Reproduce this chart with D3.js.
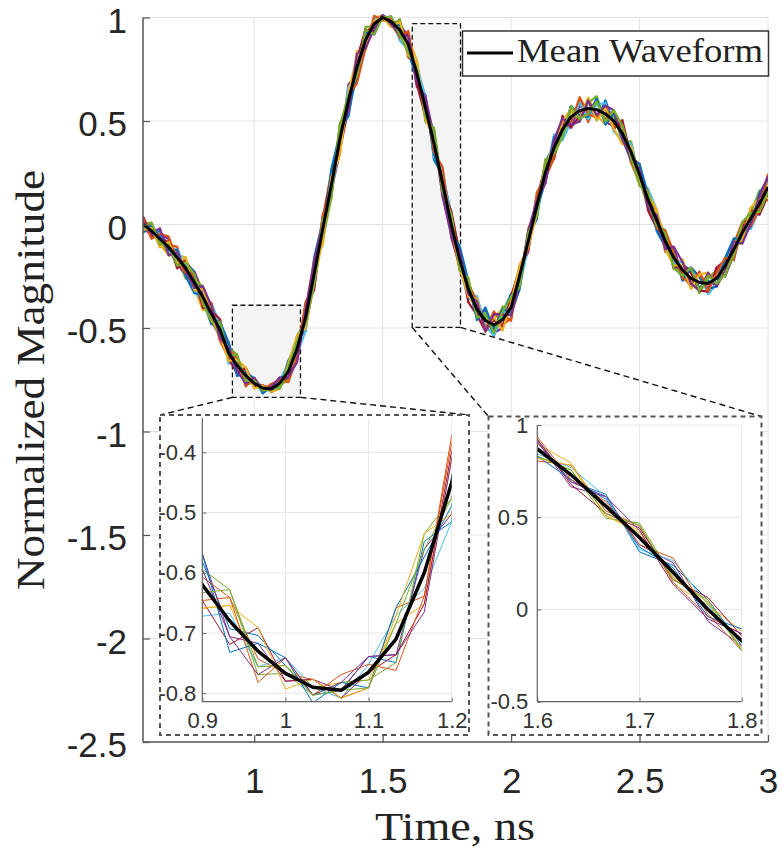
<!DOCTYPE html>
<html><head><meta charset="utf-8">
<script src="https://cdn.jsdelivr.net/npm/d3@7/dist/d3.min.js"></script>
<style>body{margin:0;background:#fff}svg{display:block}</style>
</head><body>
<svg id="c" width="782" height="848"></svg>
<script>
// ---------------- data ----------------
const time = [0.567,0.6,0.633,0.667,0.7,0.733,0.767,0.8,0.833,0.867,
0.9,0.933,0.967,1.0,1.033,1.067,1.1,1.133,1.167,1.2,
1.233,1.267,1.3,1.333,1.367,1.4,1.433,1.467,1.5,1.533,
1.567,1.6,1.633,1.667,1.7,1.733,1.767,1.8,1.833,1.867,
1.9,1.933,1.967,2.0,2.033,2.067,2.1,2.133,2.167,2.2,
2.233,2.267,2.3,2.333,2.367,2.4,2.433,2.467,2.5,2.533,
2.567,2.6,2.633,2.667,2.7,2.733,2.767,2.8,2.833,2.867,
2.9,2.933,2.967,3.0];

const meanWave = [0.00,-0.03,-0.07,-0.11,-0.16,-0.21,-0.28,-0.35,-0.43,-0.51,
-0.62,-0.68,-0.73,-0.767,-0.79,-0.795,-0.765,-0.71,-0.60,-0.45,
-0.24,-0.02,0.19,0.41,0.60,0.76,0.89,0.97,1.00,0.98,
0.94,0.87,0.73,0.56,0.39,0.20,0.00,-0.17,-0.31,-0.41,
-0.465,-0.485,-0.46,-0.40,-0.25,-0.08,0.09,0.25,0.37,0.46,
0.52,0.55,0.56,0.555,0.535,0.50,0.44,0.35,0.24,0.12,
0.02,-0.08,-0.16,-0.22,-0.26,-0.28,-0.285,-0.26,-0.20,-0.12,
-0.04,0.03,0.10,0.18];

// per-trace deviations from the mean, in hundredths
const traceDev = [
[1,-2,3,0,-3,2,4,-1,-4,2, 3,-1,2,1,-1,0,2,-3,4,-5, 6,3,-4,5,-6,2,3,-2,0,1, -2,4,-3,5,-6,3,4,-2,1,-3, 2,-4,3,5,-3,2,-5,4,1,-3, 4,-2,3,-4,5,-1,2,-3,2,1, -2,3,-4,2,3,-2,1,-3,2,4, -3,2,-4,3],
[-1,2,-3,1,4,-2,-3,3,2,-4, -2,3,-1,0,1,-1,-2,4,-3,6, -5,4,5,-3,4,-5,2,1,-1,0, 3,-5,4,-2,5,-4,-3,3,-2,4, -3,5,-2,-4,4,-3,5,-2,-4,3, -3,4,-5,3,-2,4,-3,2,-4,3, 2,-4,3,-2,-3,4,-2,3,-3,2, 4,-3,3,-5],
[2,1,-2,-3,1,4,-2,-5,3,1, -3,2,-2,1,0,1,-1,2,-4,3, 5,-6,2,4,-3,6,-4,2,1,-1, -3,2,5,-4,3,-5,2,4,-4,2, -2,3,4,-3,-4,5,-3,2,3,-4, 2,-3,4,-2,-4,3,2,-4,3,-2, 3,2,-3,4,-2,-3,4,-2,-2,3, -2,4,-3,2],
[-2,-1,2,3,-2,-3,4,2,-3,-2, 4,-2,1,-1,1,0,2,-2,3,-4, -3,5,-2,-5,6,-3,-2,2,0,-1, 2,3,-5,4,-3,4,-5,-2,3,-2, 4,-3,-3,4,2,-4,3,-4,2,2, -4,2,-2,4,-3,-2,4,-3,-2,4, -3,-2,4,-3,4,2,-3,4,-4,-2, 3,-3,2,4],
[0,3,-1,-2,2,-4,1,4,-2,-3, 2,4,-3,0,-1,1,-1,-3,5,-2, 4,-4,-5,6,-2,-4,5,-1,1,-2, 4,-3,2,-5,6,-2,3,-4,4,-3, 3,-2,5,-3,-2,3,-4,5,-3,-2, 3,-4,2,5,-3,2,-3,4,-2,-3, -2,4,-2,-3,3,-4,2,3,-4,2, -4,2,5,-2],
[-1,0,2,-2,3,1,-3,-2,4,2, -4,1,-2,2,0,-1,1,3,-2,-5, 2,4,-3,-2,5,-4,-3,2,-1,2, -4,-2,3,4,-5,5,2,-3,-4,5, -2,-4,2,3,-4,-2,4,-3,5,-4, -2,3,-4,2,4,-4,-2,3,-3,4, 4,-3,-2,3,-3,3,-4,-2,3,-4, 3,-4,-2,4],
[3,-2,0,2,-4,3,2,-4,1,4, -2,-3,3,-1,1,-1,0,-2,-4,4, -6,2,4,-4,-3,3,4,-3,1,0, -1,4,-4,-3,4,-3,5,2,-5,-2, -4,2,-3,4,3,-3,2,3,-4,5, -4,-2,3,-3,2,-3,5,-2,4,-4, -3,3,-4,2,2,-3,-3,4,2,-3, 2,3,-4,-3],
[-3,2,1,-1,3,-3,-4,1,-2,3, 4,-4,1,2,-2,1,-2,4,2,-3, 3,-3,6,2,-5,-2,3,-4,1,-1, 2,-3,-2,3,-4,2,-3,5,3,-4, 5,-2,4,-2,-5,4,-2,-3,4,-2, 4,-2,-3,4,-4,3,-2,-3,4,2, -4,-2,3,-4,4,2,-2,-3,3,4, -2,-3,4,3],
[2,-3,2,4,-1,-2,3,-3,4,-4, 1,3,-4,2,-1,2,1,-4,-3,5, -2,5,-3,3,2,-6,-3,3,-1,1, -3,5,-2,2,-3,6,-2,-4,2,3, -3,4,2,-5,3,-3,4,-2,-3,3, -2,5,-2,-3,3,-2,3,-4,-3,3, -3,4,2,-3,-2,4,-3,2,3,-4, 4,-3,-2,5],
[-2,1,-3,2,-2,4,-3,3,-1,-2, -3,2,3,-2,1,-1,-2,3,5,-4, -3,-4,3,-6,3,4,-2,1,0,-2, 3,-4,4,-4,2,-2,3,-3,-3,4, -4,3,-4,2,4,-2,-3,4,-2,3, 3,-3,4,-4,2,-3,-4,2,-3,2, 4,-3,-3,2,-4,3,4,-2,-3,2, -3,4,2,-4],
[1,-1,4,-3,2,-1,-2,4,3,-3, 2,-2,-3,2,-1,1,2,-2,-5,3, 5,2,-4,3,-4,5,-3,-2,1,-1, -2,3,-3,4,3,-5,-4,3,-2,3, -4,4,2,-3,-3,4,2,-4,3,4, -3,-4,3,-2,3,4,-2,-3,2,-3, 2,-3,4,3,-2,-3,4,-3,-2,3, -4,-2,3,4],
[-1,3,-2,1,-3,2,3,-2,-3,3, -1,4,-2,1,-1,0,-2,2,3,-2, -4,3,-5,5,2,-3,4,-4,0,2, -2,-3,2,-3,5,-3,4,-4,4,-3, 2,-3,3,4,-4,3,-3,4,-2,-3, 4,-3,-2,3,-3,4,3,-2,-4,3, -2,3,-4,-2,4,-3,3,-2,-3,-2, 4,2,-3,-2]
];
const traceColors = ["#0072BD","#D95319","#EDB120","#7E2F8E","#77AC30","#4DBEEE","#A2142F"];

const mainXTicks = [1,1.5,2,2.5,3];
const mainYTicks = [1,0.5,0,-0.5,-1,-1.5,-2,-2.5];
const inset1XTicks = [0.9,1,1.1,1.2];
const inset1YTicks = [-0.4,-0.5,-0.6,-0.7,-0.8];
const inset2XTicks = [1.6,1.7,1.8];
const inset2YTicks = [1,0.5,0,-0.5];
// zoomed regions in data units [t0, t1, v0, v1]
const zoomRect1 = [0.915,1.18,-0.835,-0.39];
const zoomRect2 = [1.615,1.803,-0.497,0.97];
const inset1Domain = {x:[0.9,1.2], y:[-0.814,-0.343]};
const inset2Domain = {x:[1.6,1.8], y:[-0.5,1]};
const legendLabel = "Mean Waveform";
const xLabel = "Time, ns";
const yLabel = "Normalized Magnitude";

// ---------------- drawing ----------------
const svg = d3.select("#c");
const SANS = "'Liberation Sans', Arial, Helvetica, sans-serif";
const SERIF = "'Liberation Serif', 'Times New Roman', 'DejaVu Serif', serif";
const M = {l:143, r:768, t:17.5, b:742};
const x = d3.scaleLinear().domain([time[0], 3]).range([M.l, M.r]);
const y = d3.scaleLinear().domain([-2.5, 1]).range([M.b, M.t]);
const devScale = 0.013;

const traces = traceDev.map(dev => time.map((t,i)=>({t, v: meanWave[i] + dev[i]*devScale})));
const meanPts = time.map((t,i)=>({t, v: meanWave[i]}));

const defs = svg.append("defs");
defs.append("clipPath").attr("id","clipMain").append("rect")
  .attr("x",M.l).attr("y",M.t-3).attr("width",M.r-M.l).attr("height",M.b-M.t+3);

// grid
const grid = svg.append("g").attr("stroke","#e2e2e2").attr("stroke-width",1);
mainXTicks.forEach(d=>grid.append("line").attr("x1",x(d)).attr("x2",x(d)).attr("y1",M.t).attr("y2",M.b));
mainYTicks.forEach(d=>grid.append("line").attr("x1",M.l).attr("x2",M.r).attr("y1",y(d)).attr("y2",y(d)));

// zoom rectangles
[zoomRect1, zoomRect2].forEach(r=>{
  svg.append("rect").attr("x",x(r[0])).attr("y",y(r[3]))
    .attr("width",x(r[1])-x(r[0])).attr("height",y(r[2])-y(r[3]))
    .attr("fill","#f4f4f4").attr("stroke","#111").attr("stroke-width",1.3)
    .attr("stroke-dasharray","5,3");
});

// traces
function drawTraces(g, xs, ys, clipId, tw, mw){
  const line = d3.line().x(d=>xs(d.t)).y(d=>ys(d.v));
  const gg = g.append("g").attr("clip-path",`url(#${clipId})`);
  traces.forEach((tr,i)=>{
    gg.append("path").attr("d",line(tr)).attr("fill","none")
      .attr("stroke",traceColors[i%traceColors.length]).attr("stroke-width",tw)
      .attr("stroke-linejoin","round");
  });
  gg.append("path").attr("d",line(meanPts)).attr("fill","none")
    .attr("stroke","#000").attr("stroke-width",mw).attr("stroke-linejoin","round");
}
drawTraces(svg, x, y, "clipMain", 2.2, 3);

// main axes
const fmt = d=>String(d);
const axL = svg.append("g").attr("transform",`translate(${M.l},0)`)
  .call(d3.axisLeft(y).tickValues(mainYTicks).tickSize(-7).tickPadding(16).tickFormat(fmt));
const axB = svg.append("g").attr("transform",`translate(0,${M.b})`)
  .call(d3.axisBottom(x).tickValues(mainXTicks).tickSize(-7).tickPadding(26).tickFormat(fmt));
[axL, axB].forEach(a=>{
  a.select(".domain").remove();
  a.selectAll(".tick line").attr("stroke","#555").attr("stroke-width",1.2);
  a.selectAll("text").attr("fill","#262626").style("font-family",SANS).style("font-size","35px");
});
axL.selectAll("text").attr("dy","0.42em");
svg.append("line").attr("x1",M.l).attr("x2",M.l).attr("y1",M.t).attr("y2",M.b).attr("stroke","#555").attr("stroke-width",1.5);
svg.append("line").attr("x1",M.l).attr("x2",M.r).attr("y1",M.b).attr("y2",M.b).attr("stroke","#555").attr("stroke-width",1.5);

// labels
svg.append("text").attr("x",455).attr("y",840).attr("text-anchor","middle")
  .style("font-family",SERIF).style("font-size","40px").attr("fill","#222")
  .attr("textLength",160).attr("lengthAdjust","spacingAndGlyphs").text(xLabel);
svg.append("text").attr("transform","translate(44,380) rotate(-90)").attr("text-anchor","middle")
  .style("font-family",SERIF).style("font-size","40px").attr("fill","#222")
  .attr("textLength",420).attr("lengthAdjust","spacingAndGlyphs").text(yLabel);

// legend
const lg = svg.append("g");
lg.append("rect").attr("x",462.5).attr("y",31).attr("width",306).attr("height",45)
  .attr("fill","#fff").attr("stroke","#333").attr("stroke-width",1.5);
lg.append("line").attr("x1",467).attr("x2",513).attr("y1",53).attr("y2",53).attr("stroke","#000").attr("stroke-width",3);
lg.append("text").attr("x",517).attr("y",62).style("font-family",SERIF).style("font-size","34px")
  .attr("fill","#222").attr("textLength",246).attr("lengthAdjust","spacingAndGlyphs").text(legendLabel);

// connectors
function connect(r, box){
  const pts = [[x(r[0]),y(r[2]),box.x0,box.y0],[x(r[1]),y(r[2]),box.x1,box.y0]];
  pts.forEach(p=>svg.append("line").attr("x1",p[0]).attr("y1",p[1]).attr("x2",p[2]).attr("y2",p[3])
    .attr("stroke","#111").attr("stroke-width",1.4).attr("stroke-dasharray","6,4"));
}

// insets
function drawInset(id, box, ax, dom, xt, yt, padL, padB){
  const g = svg.append("g");
  g.append("rect").attr("x",box.x0).attr("y",box.y0).attr("width",box.x1-box.x0).attr("height",box.y1-box.y0)
    .attr("fill","#fff").attr("stroke","#555").attr("stroke-width",2).attr("stroke-dasharray","5,4");
  const xs = d3.scaleLinear().domain(dom.x).range([ax.l, ax.r]);
  const ys = d3.scaleLinear().domain(dom.y).range([ax.b, ax.t]);
  const gr = g.append("g").attr("stroke","#e6e6e6").attr("stroke-width",1);
  xt.forEach(d=>gr.append("line").attr("x1",xs(d)).attr("x2",xs(d)).attr("y1",ax.t).attr("y2",ax.b));
  yt.forEach(d=>gr.append("line").attr("x1",ax.l).attr("x2",ax.r).attr("y1",ys(d)).attr("y2",ys(d)));
  defs.append("clipPath").attr("id",id).append("rect").attr("x",ax.l).attr("y",ax.t)
    .attr("width",ax.r-ax.l).attr("height",ax.b-ax.t);
  drawTraces(g, xs, ys, id, 1, 3.5);
  const aL = g.append("g").attr("transform",`translate(${ax.l},0)`)
    .call(d3.axisLeft(ys).tickValues(yt).tickSize(-4).tickPadding(padL).tickFormat(fmt));
  const aB = g.append("g").attr("transform",`translate(0,${ax.b})`)
    .call(d3.axisBottom(xs).tickValues(xt).tickSize(-4).tickPadding(padB).tickFormat(fmt));
  [aL,aB].forEach(a=>{
    a.select(".domain").remove();
    a.selectAll(".tick line").attr("stroke","#666");
    a.selectAll("text").attr("fill","#333").style("font-family",SANS).style("font-size","22px");
  });
  g.append("line").attr("x1",ax.l).attr("x2",ax.l).attr("y1",ax.t).attr("y2",ax.b).attr("stroke","#666").attr("stroke-width",1.2);
  g.append("line").attr("x1",ax.l).attr("x2",ax.r).attr("y1",ax.b).attr("y2",ax.b).attr("stroke","#666").attr("stroke-width",1.2);
}
const box1 = {x0:160,y0:415,x1:469,y1:735};
const box2 = {x0:488.5,y0:416.5,x1:761.5,y1:735};
connect(zoomRect1, box1);
connect(zoomRect2, box2);
drawInset("clipI1", box1, {l:202.3,r:451.7,t:418,b:701.7}, inset1Domain, inset1XTicks, inset1YTicks, 6, 11);
drawInset("clipI2", box2, {l:537.3,r:741.7,t:425,b:701.7}, inset2Domain, inset2XTicks, inset2YTicks, 9, 11);
</script>
</body></html>
